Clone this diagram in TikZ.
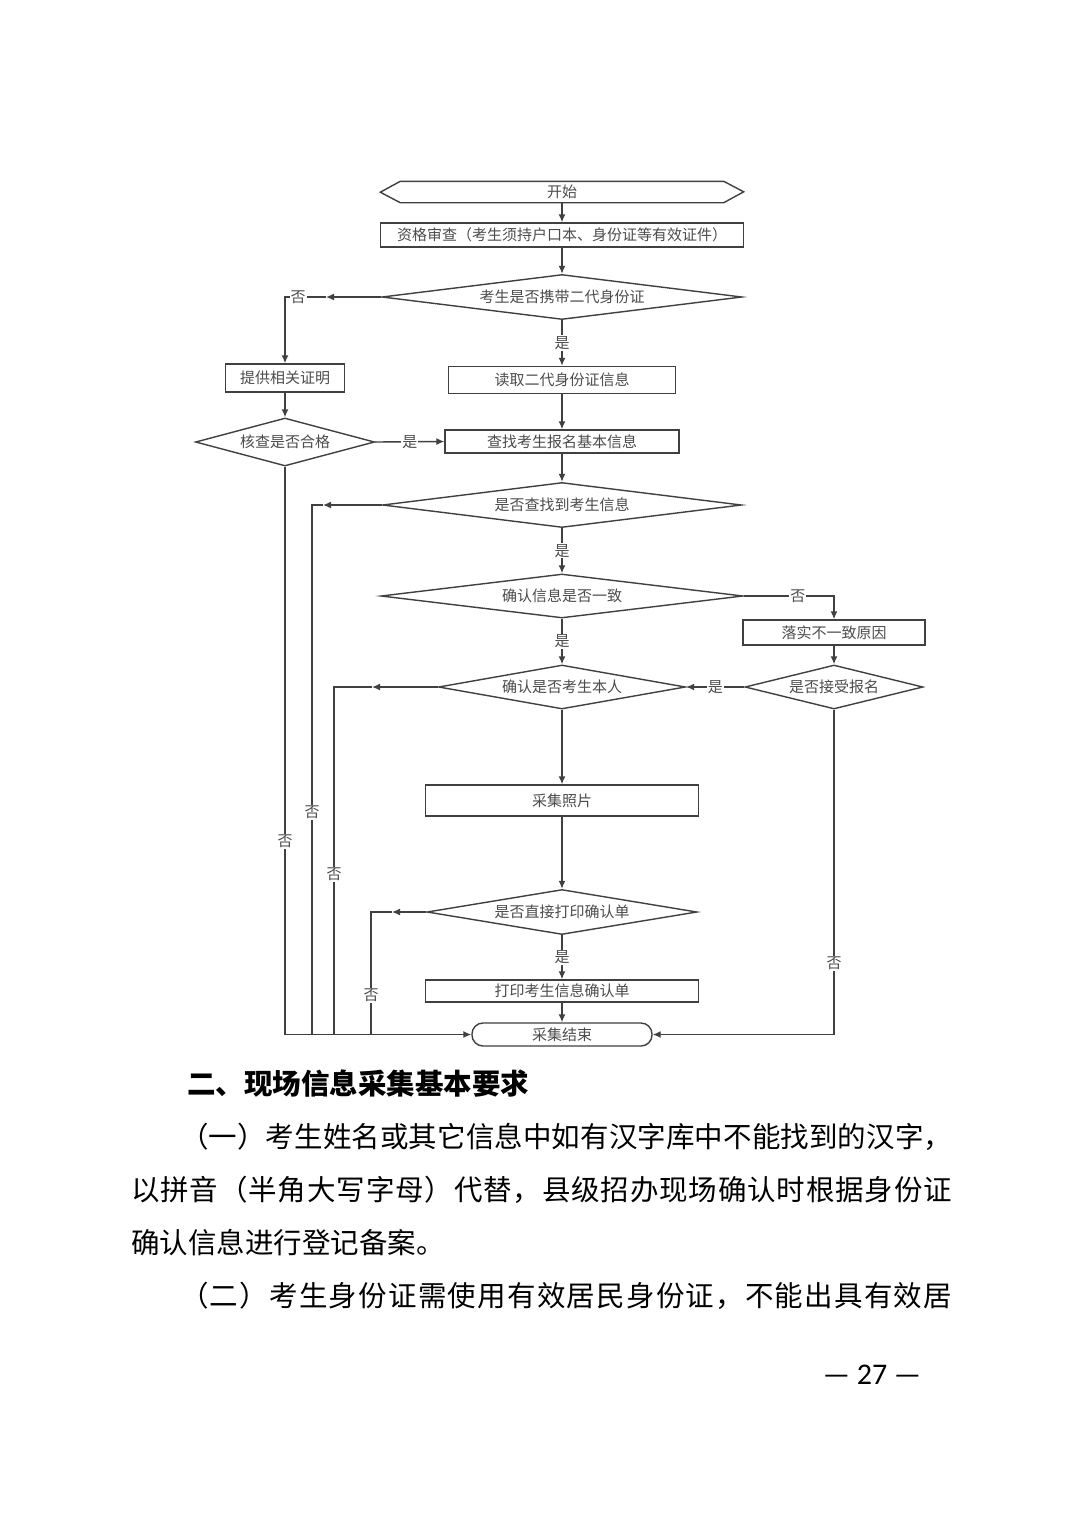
\documentclass[tikz,border=0pt]{standalone}
\usepackage{fontspec}
\setmainfont{Noto Sans CJK SC}
\newfontfamily\pgnum{Carlito}
\usetikzlibrary{arrows.meta,shapes.geometric}

\def\spr#1{\sprA#1\relax}
\def\sprA#1{#1\sprB}
\def\sprB#1{\ifx#1\relax\else\hskip 0pt plus 1fil\relax #1\expandafter\sprB\fi}

\begin{document}
\begin{tikzpicture}[x=1pt, y=-1pt,
  box/.style={draw=black!75, line width=1.4pt, inner sep=0pt, text=black!70, font=\fontsize{15}{18}\selectfont},
  dia/.style={box, shape=diamond, aspect=5.5},
  lbl/.style={fill=white, inner sep=1pt, text=black!70, font=\fontsize{15}{18}\selectfont},
  ln/.style={draw=black!75, line width=1.4pt},
  arr/.style={ln, -{Latex[length=8pt,width=7pt]}},
  txt/.style={anchor=west, inner sep=0pt, font=\fontsize{28.5}{30}\selectfont}]

\def\xc{562}
\def\xl{285}
\def\xr{834}
\def\xa{312}
\def\xb{334}
\def\xd{371}

\def\ya{192}
\def\yb{235}
\def\yc{297}
\def\yd{380}
\def\ye{441.5}
\def\yf{505}
\def\yg{596}
\def\yh{632.5}
\def\yi{687}
\def\yj{800.5}
\def\yk{912}
\def\yl{991}
\def\ym{1034.5}

\fill[white] (0,0) rectangle (1080,1527);
\useasboundingbox (0,0) rectangle (1080,1527);

\node[minimum width=323pt, minimum height=21pt, inner sep=0pt, text=black!70, font=\fontsize{15}{18}\selectfont] (st) at (\xc,\ya) {开始};
\draw[ln] (st.north west) -- (st.north east) -- ++(20,10.5) -- (st.south east) -- (st.south west) -- ++(-20,-10.5) -- cycle;

\node[box, minimum width=363pt, minimum height=24pt] (q) at (\xc,\yb) {资格审查（考生须持户口本、身份证等有效证件）};
\node[dia, minimum width=360pt, minimum height=45pt] (d1) at (\xc,\yc) {考生是否携带二代身份证};
\node[box, minimum width=227pt, minimum height=27pt] (rd) at (\xc,\yd) {读取二代身份证信息};
\node[box, minimum width=119pt, minimum height=28pt] (pv) at (\xl,378) {提供相关证明};
\node[dia, minimum width=179pt, minimum height=48pt] (ck) at (\xl,442) {核查是否合格};
\node[box, minimum width=234pt, minimum height=23pt] (fd) at (\xc,\ye) {查找考生报名基本信息};
\node[dia, minimum width=359pt, minimum height=45pt] (d2) at (\xc,\yf) {是否查找到考生信息};
\node[dia, minimum width=362pt, minimum height=44pt] (d3) at (\xc,\yg) {确认信息是否一致};
\node[box, minimum width=182pt, minimum height=25pt] (cs) at (\xr,\yh) {落实不一致原因};
\node[dia, minimum width=247pt, minimum height=44pt] (d4) at (\xc,\yi) {确认是否考生本人};
\node[dia, minimum width=178pt, minimum height=44pt] (ac) at (\xr,\yi) {是否接受报名};
\node[box, minimum width=273pt, minimum height=31pt] (ph) at (\xc,\yj) {采集照片};
\node[dia, minimum width=270pt, minimum height=45pt] (d5) at (\xc,\yk) {是否直接打印确认单};
\node[box, minimum width=273pt, minimum height=22pt] (pr) at (\xc,\yl) {打印考生信息确认单};
\node[box, rounded corners=11pt, minimum width=180pt, minimum height=23pt] (en) at (\xc,\ym) {采集结束};

\draw[arr] (st.south) -- (q.north);
\draw[arr] (q.south) -- (d1.north);
\draw[arr] (d1.south) -- node[lbl]{是} (rd.north);
\coordinate (a1) at (326,\yc);
\draw[arr] (d1.west) -- (a1);
\draw[arr] (a1) -| node[lbl, pos=0.34]{否} (pv.north);
\draw[arr] (pv.south) -- (ck.north);
\draw[arr] (ck.east) -- node[lbl]{是} (fd.west);
\draw[arr] (rd.south) -- (fd.north);
\draw[arr] (fd.south) -- (d2.north);
\draw[arr] (d2.south) -- node[lbl]{是} (d3.north);
\draw[arr] (d3.east) -| node[lbl, pos=0.3]{否} (cs.north);
\draw[arr] (d3.south) -- node[lbl]{是} (d4.north);
\draw[arr] (cs.south) -- (ac.north);
\draw[arr] (ac.west) -- node[lbl]{是} (d4.east);
\draw[arr] (d4.south) -- (ph.north);
\draw[arr] (ph.south) -- (d5.north);
\draw[arr] (d5.south) -- node[lbl]{是} (pr.north);
\draw[arr] (pr.south) -- (en.north);
\draw[arr] (ck.south) |- node[lbl, pos=0.33]{否} (en.west);
\draw[arr] (ac.south) |- node[lbl, pos=0.39]{否} (en.east);

\coordinate (a2) at (323,\yf);
\coordinate (b2) at (\xa,\ym);
\draw[arr] (d2.west) -- (a2);
\draw[ln] (a2) -| node[lbl, pos=0.79]{否} (b2);
\coordinate (a4) at (372,\yi);
\coordinate (b4) at (\xb,\ym);
\draw[arr] (d4.west) -- (a4);
\draw[ln] (a4) -| node[lbl, pos=0.77]{否} (b4);
\coordinate (a5) at (392,\yk);
\coordinate (b5) at (\xd,\ym);
\draw[arr] (d5.west) -- (a5);
\draw[ln] (a5) -| node[lbl, pos=0.84]{否} (b5);

\node[txt, font=\bfseries\fontsize{28.5}{30}\selectfont] (h) at (187,1084) {二、现场信息采集基本要求};
\node[txt] (p1) at (180,1137) {\hbox to 772pt{\spr{（一）考生姓名或其它信息中如有汉字库中不能找到的汉字，}}};
\node[txt] (p2) at (131,1190) {\hbox to 821pt{\spr{以拼音（半角大写字母）代替，县级招办现场确认时根据身份证}}};
\node[txt] (p3) at (131,1243) {确认信息进行登记备案。};
\node[txt] (p4) at (180,1296) {\hbox to 772pt{\spr{（二）考生身份证需使用有效居民身份证，不能出具有效居}}};

\node[font=\pgnum\fontsize{30}{32}\selectfont] (pg) at (872,1375) {— 27 —};

\end{tikzpicture}
\end{document}
